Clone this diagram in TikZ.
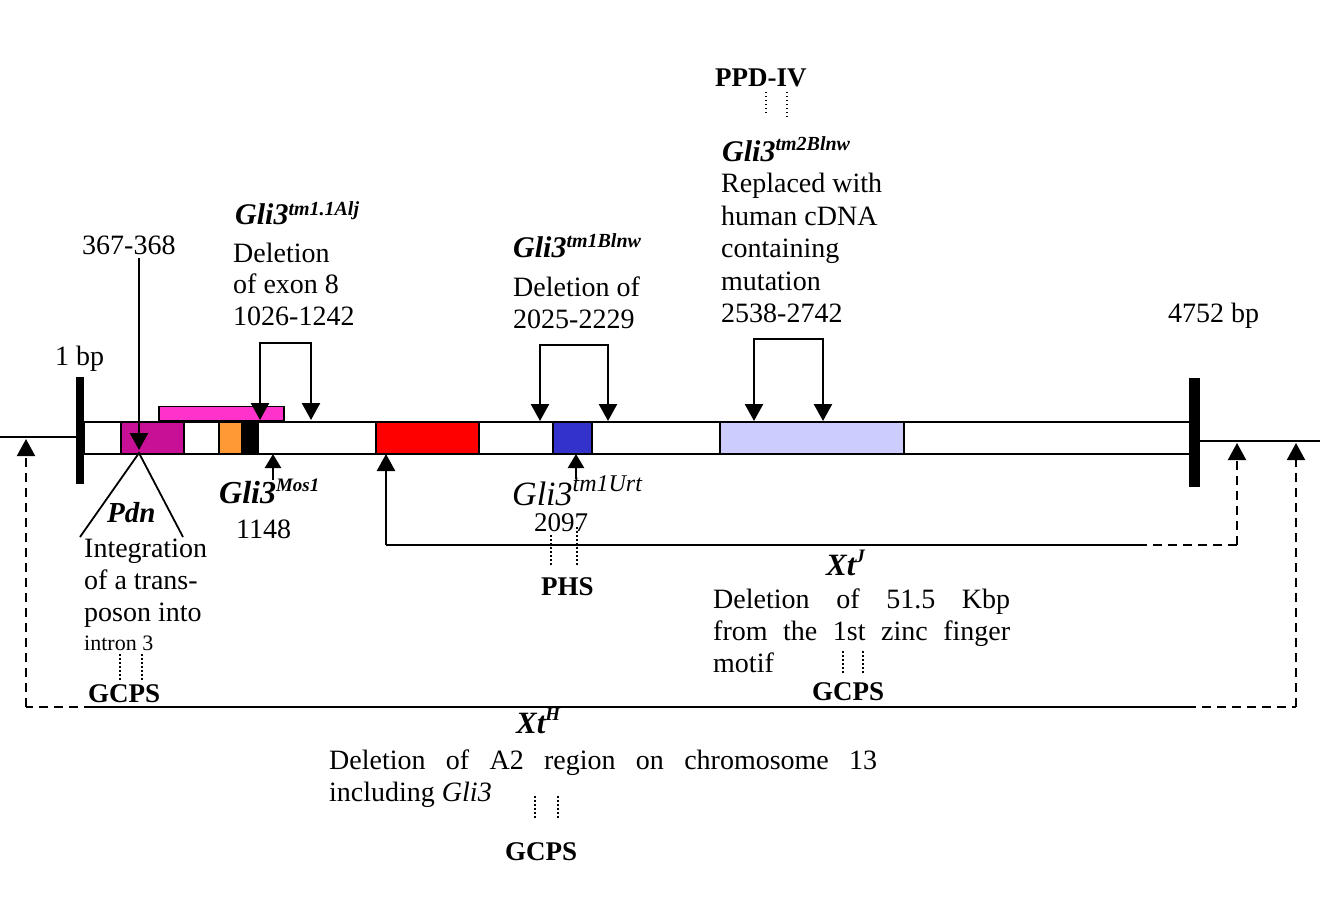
\documentclass[tikz,border=0pt]{standalone}
\usepackage{fontspec}
\setmainfont{Liberation Serif}
\usetikzlibrary{arrows.meta}
\definecolor{magA}{RGB}{200,16,150}
\definecolor{pinkA}{RGB}{255,51,204}
\definecolor{orangeA}{RGB}{255,153,51}
\definecolor{blueA}{RGB}{51,51,204}
\definecolor{lavA}{RGB}{204,204,255}
\newcommand\mysup[3]{\raisebox{#1}{\fontsize{#2}{#2}\selectfont #3}}
\begin{document}
\begin{tikzpicture}[x=1pt,y=-1pt,
  txt/.style={inner sep=0pt, anchor=base west, font=\fontsize{28}{32}\selectfont},
  stxt/.style={inner sep=0pt, anchor=base west, font=\fontsize{22}{26}\selectfont},
  btxt/.style={inner sep=0pt, anchor=base west, font=\fontsize{27}{32}\selectfont\bfseries},
  gtxt/.style={inner sep=0pt, anchor=base west, font=\fontsize{30}{32}\selectfont\bfseries\itshape},
  exon/.style={draw=black, line width=2pt},
  bar/.style={fill=black, draw=none},
  bigtip/.style={-{Triangle[width=18pt,length=17pt]}},
  bigarr/.style={line width=2.5pt, bigtip},
  smallarr/.style={line width=2.5pt, -{Triangle[width=16pt,length=14pt]}},
  plainline/.style={line width=2pt},
  dashline/.style={line width=2pt, dash pattern=on 9pt off 6pt},
  dotline/.style={line width=1.2pt, dash pattern=on 1.5pt off 2.5pt},
]
\useasboundingbox (0,0) rectangle (1326,904);

% chromosome
\coordinate (chrL0) at (0,437);
\coordinate (chrL1) at (77,437);
\coordinate (chrR0) at (1199,441);
\coordinate (chrR1) at (1320,441);
\draw[line width=1.5pt] (chrL0) -- (chrL1);
\draw[line width=1.5pt] (chrR0) -- (chrR1);

% gene
\node[exon, fill=white, minimum width=1107pt, minimum height=32pt, inner sep=0pt, anchor=north west] (gene) at (83,421) {};
\node[bar, minimum width=8pt, minimum height=107pt, inner sep=0pt, anchor=north west] (barL) at (76,377) {};
\node[bar, minimum width=11pt, minimum height=109pt, inner sep=0pt, anchor=north west] (barR) at (1189,378) {};

% exon boxes
\node[exon, fill=magA, minimum width=63pt, minimum height=32pt, inner sep=0pt, anchor=north west] (mag) at (120,421) {};
\node[exon, fill=pinkA, minimum width=125pt, minimum height=14pt, inner sep=0pt, anchor=south west, line width=1.5pt] (pink) at (158,421) {};
\node[exon, fill=orangeA, minimum width=23pt, minimum height=32pt, inner sep=0pt, anchor=north west] (orange) at (218,421) {};
\node[exon, fill=black, minimum width=16pt, minimum height=32pt, inner sep=0pt, anchor=north west] (blk) at (241,421) {};
\node[exon, fill=red, minimum width=103pt, minimum height=32pt, inner sep=0pt, anchor=north west] (redb) at (375,421) {};
\node[exon, fill=blueA, minimum width=39pt, minimum height=32pt, inner sep=0pt, anchor=north west] (blueb) at (552,421) {};
\node[exon, fill=lavA, minimum width=184pt, minimum height=32pt, inner sep=0pt, anchor=north west, line width=1.5pt] (lav) at (719,421) {};

% labels at ends
\node[txt] (onebp) at (55,365) {1 bp};
\node[txt] (endbp) at (1168,322) {4752 bp};

% 367-368 / Pdn
\node[txt] (pos367) at (82,255) {367-368};
\coordinate (a367s) at (139,258);
\coordinate (a367e) at (139,450);
\draw[bigarr] (a367s) -- (a367e);
\coordinate (pdnApex) at (139,453);
\coordinate (pdnL) at (80,537);
\coordinate (pdnR) at (183,537);
\draw[line width=1.8pt] (pdnL) -- (pdnApex) -- (pdnR);
\node[inner sep=0pt, anchor=base west, font=\fontsize{29}{32}\selectfont\bfseries\itshape] (pdn) at (107,522) {Pdn};
\node[txt] (integ) at (84,557) {\parbox[t]{200pt}{Integration\\of a trans-\\poson into}};
\node[stxt] (intron) at (84,650) {intron 3};
\node[btxt] (gcps1) at (88,702) {GCPS};
\draw[dotline] (120,654) -- (120,682);
\draw[dotline] (142,654) -- (142,682);

% Gli3 tm1.1Alj
\node[gtxt] (alj) at (235,225) {Gli3\mysup{9pt}{20}{tm1.1Alj}};
\node[txt] (aljt) at (233,262) {\parbox[t]{200pt}{Deletion\\of exon 8\\1026-1242}};
\coordinate (aljA) at (260,343);
\coordinate (aljB) at (311,343);
\coordinate (aljAt) at (260,420);
\coordinate (aljBt) at (311,420);
\draw[bigarr] (aljA) -- (aljAt);
\draw[bigarr] (aljB) -- (aljBt);
\draw[line width=2.5pt, line cap=rect] (aljA) -- (aljB);

% Gli3 Mos1
\coordinate (mosS) at (273,480);
\coordinate (mosE) at (273,454);
\draw[smallarr] (mosS) -- (mosE);
\node[inner sep=0pt, anchor=base west, font=\fontsize{32}{32}\selectfont\bfseries\itshape] (mos) at (219,503) {Gli3\mysup{12pt}{19}{Mos1}};
\node[txt] (n1148) at (236,538) {1148};

% Xt J
\coordinate (xjS) at (386,545);
\coordinate (xjE) at (386,454);
\coordinate (xjM) at (1138,545);
\coordinate (xjC) at (1237,545);
\coordinate (xjT) at (1237,443);
\draw[bigarr] (xjS) -- (xjE);
\draw[plainline] (xjS) -- (xjM);
\draw[dashline] (xjM) -- (xjC);
\draw[line width=2pt, dash pattern=on 9pt off 6pt, bigtip] (xjC) -- (xjT);
\node[inner sep=0pt, anchor=base west, font=\fontsize{31}{32}\selectfont\bfseries\itshape] (xj) at (826,575) {Xt\mysup{13pt}{19}{J}};
\node[txt] (xjt) at (713,608) {\parbox[t]{297pt}{Deletion of 51.5 Kbp\linebreak from the 1st zinc finger\linebreak motif}};
\node[btxt] (gcps2) at (812,700) {GCPS};
\draw[dotline] (843,651) -- (843,675);
\draw[dotline] (863,651) -- (863,675);

% Gli3 tm1Blnw
\node[gtxt] (blnw) at (513,258) {Gli3\mysup{10pt}{20}{tm1Blnw}};
\node[txt] (blnwt) at (513,297) {\parbox[t]{200pt}{Deletion of\\2025-2229}};
\coordinate (blA) at (540,345);
\coordinate (blB) at (608,345);
\coordinate (blAt) at (540,421);
\coordinate (blBt) at (608,421);
\draw[bigarr] (blA) -- (blAt);
\draw[bigarr] (blB) -- (blBt);
\draw[line width=2.5pt, line cap=rect] (blA) -- (blB);

% Gli3 tm1Urt
\coordinate (urS) at (576,479);
\coordinate (urE) at (576,454);
\draw[smallarr] (urS) -- (urE);
\node[inner sep=0pt, anchor=base west, font=\fontsize{34}{34}\selectfont\itshape] (urt) at (512,505) {Gli3\mysup{14pt}{24}{tm1Urt}};
\node[inner sep=0pt, anchor=base west, font=\fontsize{27}{30}\selectfont] (n2097) at (534,531) {2097};
\draw[dotline] (551,535) -- (551,566);
\draw[dotline] (577,527) -- (577,566);
\node[btxt] (phs) at (541,595) {PHS};

% Gli3 tm2Blnw
\node[btxt] (ppd) at (715,87) {PPD-IV};
\draw[dotline] (766,92) -- (766,114);
\draw[dotline] (787,92) -- (787,120);
\node[gtxt] (blnw2) at (722,162) {Gli3\mysup{11pt}{20}{tm2Blnw}};
\node[txt] (blnw2t) at (721,193) {\parbox[t]{200pt}{\fontsize{28}{32.5}\selectfont Replaced with\\human cDNA\\containing\\mutation\\2538-2742}};
\coordinate (b2A) at (754,339);
\coordinate (b2B) at (823,339);
\coordinate (b2At) at (754,421);
\coordinate (b2Bt) at (823,421);
\draw[bigarr] (b2A) -- (b2At);
\draw[bigarr] (b2B) -- (b2Bt);
\draw[line width=2.5pt, line cap=rect] (b2A) -- (b2B);

% Xt H
\coordinate (xhL) at (93,707);
\coordinate (xhLc) at (26,707);
\coordinate (xhLt) at (26,439);
\coordinate (xhR) at (1187,707);
\coordinate (xhRc) at (1296,707);
\coordinate (xhRt) at (1296,443);
\draw[plainline] (xhL) -- (xhR);
\draw[dashline] (xhL) -- (xhLc);
\draw[line width=2pt, dash pattern=on 9pt off 6pt, bigtip] (xhLc) -- (xhLt);
\draw[dashline] (xhR) -- (xhRc);
\draw[line width=2pt, dash pattern=on 9pt off 6pt, bigtip] (xhRc) -- (xhRt);
\node[inner sep=0pt, anchor=base west, font=\fontsize{31}{32}\selectfont\bfseries\itshape] (xh) at (516,733) {Xt\mysup{13pt}{19}{H}};
\node[txt] (xht) at (329,769) {\parbox[t]{548pt}{Deletion of A2 region on chromosome 13\linebreak including \textit{Gli3}}};
\draw[dotline] (535,796) -- (535,820);
\draw[dotline] (558,796) -- (558,820);
\node[btxt] (gcps3) at (505,860) {GCPS};
\end{tikzpicture}
\end{document}
